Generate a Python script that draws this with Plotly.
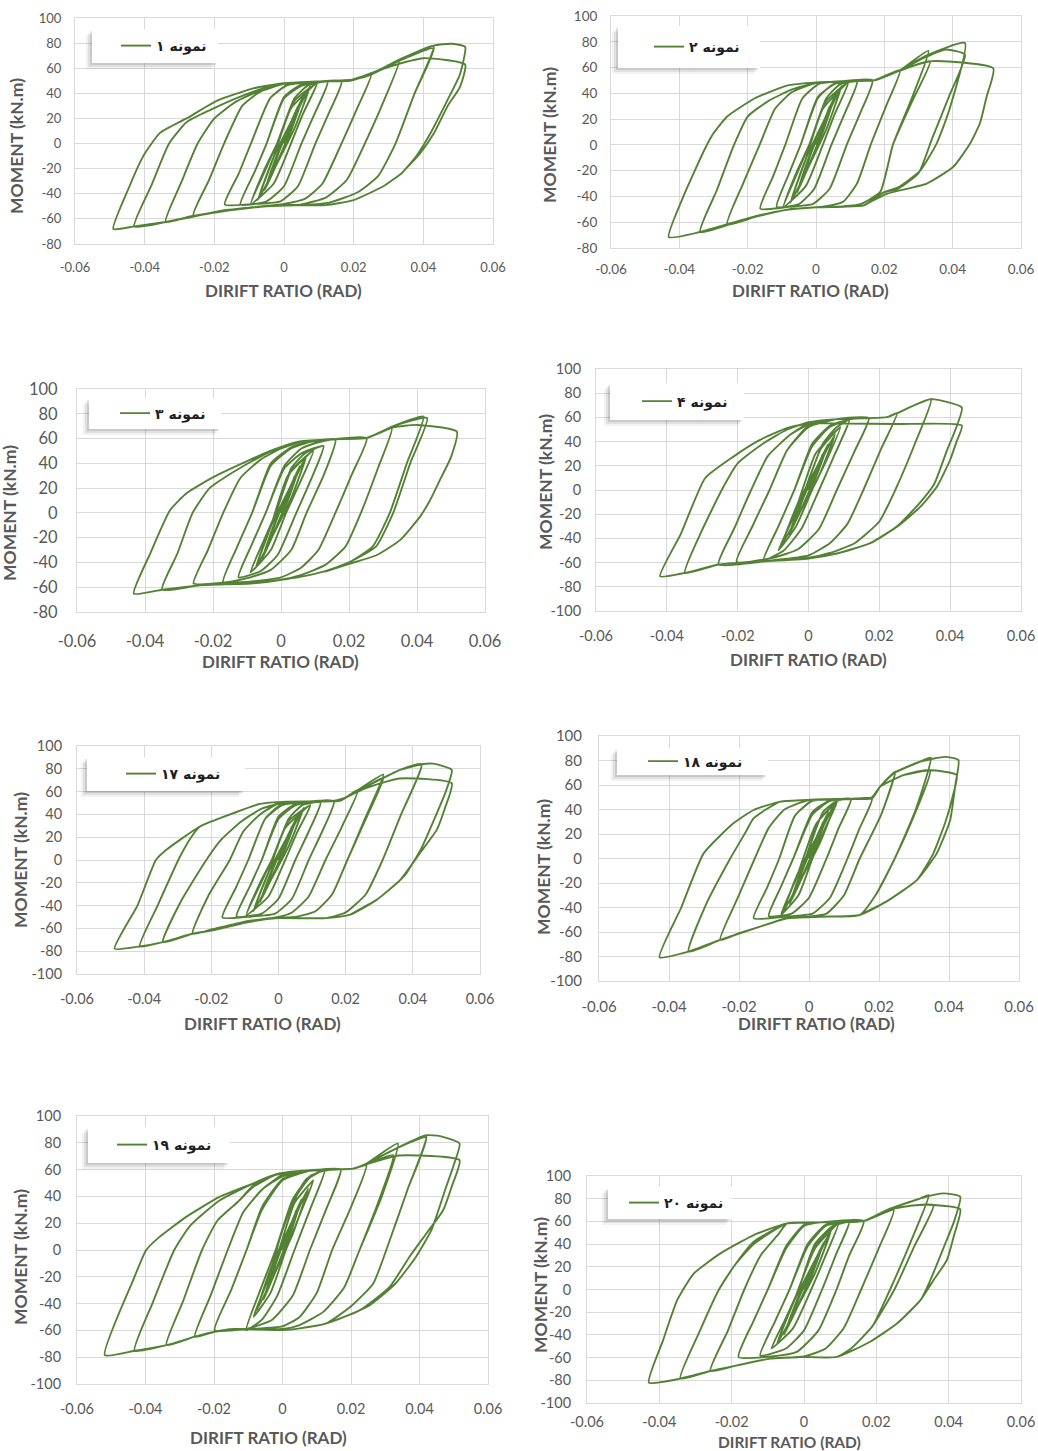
import plotly.graph_objects as go

W, H = 1038, 1451
GREEN = "#548235"
GRID = "#d9d9d9"
TXT = "#595959"

legend_names = ["نمونه ۱", "نمونه ۲", "نمونه ۳", "نمونه ۴",
                "نمونه ۱۷", "نمونه ۱۸", "نمونه ۱۹", "نمونه ۲۰"]
x_tick_vals = [-0.06, -0.04, -0.02, 0, 0.02, 0.04, 0.06]
x_tick_text = ["-0.06", "-0.04", "-0.02", "0", "0.02", "0.04", "0.06"]
y_ticks_80 = [-80, -60, -40, -20, 0, 20, 40, 60, 80, 100]
y_ticks_100 = [-100, -80, -60, -40, -20, 0, 20, 40, 60, 80, 100]
x_title = "DIRIFT RATIO (RAD)"
y_title = "MOMENT (kN.m)"

# (drift ratio, moment) points
loop_1 = [
    (0, 0), (0.004, 30), (0.0015, 8), (-0.004, -28), (-0.0015, -7),
    (0.004, 30), (0.0015, 8), (-0.004, -28), (-0.0015, -7),
    (0.0055, 38), (0.002, 10), (-0.0055, -37), (-0.002, -9),
    (0.0055, 38), (0.002, 10), (-0.0055, -37), (-0.002, -9),
    (0.0075, 46), (0.003, 12), (-0.0075, -45), (-0.003, -11),
    (0.0075, 46), (0.003, 12), (-0.0075, -45), (-0.003, -11),
    (0.002, 28), (0.0095, 48),
    (0.0055, 24), (0.002, 0), (-0.003, -32), (-0.0095, -48),
    (-0.0055, -22), (-0.002, 0), (0.003, 34), (0.0095, 48),
    (0.0055, 24), (0.002, 0), (-0.003, -32), (-0.0095, -48),
    (-0.0055, -20), (-0.002, 0), (0.003, 36), (0.007, 46.5), (0.0125, 49),
    (0.009, 25), (0.005, 0), (0, -34), (-0.005, -46), (-0.0125, -48.5),
    (-0.0085, -23), (-0.005, 0), (0, 36), (0.005, 46), (0.0125, 49),
    (0.009, 25), (0.005, 0), (0, -34), (-0.005, -46), (-0.0125, -48.5),
    (-0.0085, -23), (-0.005, 0), (0, 37), (0.005, 47), (0.0165, 49.5),
    (0.013, 25), (0.009, 0), (0.004, -34), (-0.001, -46), (-0.008, -48), (-0.017, -48.5),
    (-0.013, -24), (-0.0095, 0), (-0.004, 36), (0.001, 46.5), (0.008, 49), (0.0165, 49.5),
    (0.013, 25), (0.009, 0), (0.004, -34), (-0.001, -46), (-0.008, -48), (-0.017, -48.5),
    (-0.013, -24), (-0.0095, 0), (-0.004, 36), (0.001, 47), (0.01, 49.5), (0.019, 50), (0.025, 55),
    (0.021, 28), (0.0165, 0), (0.011, -32), (0.006, -44), (0, -48), (-0.01, -51), (-0.018, -53.5), (-0.026, -57),
    (-0.0215, -29), (-0.0172, 0), (-0.012, 30), (-0.007, 41), (0, 47.5), (0.01, 49.5), (0.019, 50), (0.025, 55),
    (0.021, 28), (0.0165, 0), (0.011, -32), (0.006, -44), (0, -48), (-0.01, -51), (-0.018, -53.5), (-0.026, -57),
    (-0.0215, -29), (-0.0172, 0), (-0.012, 30), (-0.007, 41), (0, 47.5), (0.01, 49.5), (0.019, 50), (0.025, 55), (0.033, 66),
    (0.0285, 33), (0.0232, 0), (0.018, -29), (0.012, -43), (0.005, -48.5), (0, -49), (-0.01, -51), (-0.02, -55), (-0.027, -58), (-0.034, -62.5),
    (-0.0295, -31), (-0.0248, 0), (-0.02, 20), (-0.014, 33), (-0.007, 42), (0, 47.5), (0.01, 49.5), (0.019, 50), (0.025, 55), (0.033, 66),
    (0.0285, 33), (0.0232, 0), (0.018, -29), (0.012, -43), (0.005, -48.5), (0, -49), (-0.01, -51), (-0.02, -55), (-0.027, -58), (-0.034, -62.5),
    (-0.0295, -31), (-0.0248, 0), (-0.02, 20), (-0.014, 33), (-0.007, 42), (0, 47.5), (0.01, 49.5), (0.019, 50), (0.025, 55), (0.033, 66), (0.043, 78),
    (0.0375, 40), (0.032, 0), (0.027, -26), (0.021, -39), (0.013, -47), (0.005, -49), (-0.005, -50), (-0.015, -53), (-0.025, -57), (-0.034, -62.5), (-0.043, -66),
    (-0.038, -33), (-0.033, 0), (-0.028, 17), (-0.021, 27), (-0.012, 38), (-0.004, 45.5), (0.003, 48.5), (0.012, 49.5), (0.019, 50.5), (0.026, 57), (0.034, 67), (0.043, 76),
    (0.0375, 40), (0.032, 0), (0.027, -26), (0.021, -39), (0.013, -47), (0.005, -49), (-0.005, -50), (-0.015, -53), (-0.025, -57), (-0.034, -62.5), (-0.043, -66),
    (-0.038, -33), (-0.033, 0), (-0.028, 17), (-0.021, 27), (-0.012, 38), (-0.004, 45.5), (0.003, 48.5), (0.012, 49.5), (0.019, 50.5), (0.026, 57), (0.034, 68), (0.043, 78), (0.048, 79.5), (0.052, 77),
    (0.0505, 55), (0.047, 35), (0.042, 8), (0.038, -10), (0.034, -23), (0.0285, -34), (0.02, -45), (0.012, -49), (0, -49), (-0.01, -51), (-0.02, -55), (-0.034, -62.5), (-0.043, -66), (-0.049, -68),
    (-0.0445, -35), (-0.0404, -10), (-0.0356, 8.5), (-0.028, 20), (-0.0193, 34), (-0.0088, 44), (0, 48), (0.01, 49.5), (0.02, 51), (0.03, 61), (0.04, 68), (0.052, 63),
    (0.0505, 45), (0.047, 30), (0.043, 8), (0.039, -8), (0.035, -20),
]

loop_2 = [
    (0, 0), (0.004, 30), (0.0015, 8), (-0.004, -28), (-0.0015, -7),
    (0.0055, 38), (0.002, 10), (-0.0055, -37), (-0.002, -9),
    (0.0055, 38), (0.002, 10), (-0.0055, -37), (-0.002, -9),
    (0.0075, 46), (0.003, 12), (-0.0075, -45), (-0.003, -11),
    (0.0075, 46), (0.003, 12), (-0.0075, -45), (-0.003, -11),
    (0.002, 28), (0.0095, 48.5),
    (0.0055, 24), (0.002, 0), (-0.003, -32), (-0.0095, -48),
    (-0.0055, -22), (-0.002, 0), (0.003, 34), (0.0095, 48.5),
    (0.0055, 24), (0.002, 0), (-0.003, -32), (-0.0095, -48),
    (-0.0055, -20), (-0.002, 0), (0.003, 36), (0.007, 47), (0.012, 49),
    (0.0085, 25), (0.0045, 0), (-0.0005, -34), (-0.005, -46), (-0.0115, -48),
    (-0.008, -23), (-0.0045, 0), (0.0005, 36), (0.005, 47), (0.012, 49),
    (0.0085, 25), (0.0045, 0), (-0.0005, -34), (-0.005, -46), (-0.0115, -48),
    (-0.008, -23), (-0.0045, 0), (0.0005, 37), (0.006, 48), (0.0165, 50),
    (0.013, 25), (0.009, 0), (0.004, -34), (-0.001, -46), (-0.008, -48), (-0.0163, -49.5),
    (-0.0125, -24), (-0.009, 0), (-0.004, 36), (0.001, 47.5), (0.008, 49.5), (0.0165, 50),
    (0.013, 25), (0.009, 0), (0.004, -34), (-0.001, -46), (-0.008, -48), (-0.0163, -49.5),
    (-0.0125, -24), (-0.009, 0), (-0.004, 36), (0.001, 47.5), (0.01, 49.5), (0.017, 50), (0.0246, 58),
    (0.0205, 30), (0.016, 0), (0.012, -30), (0.008, -44), (0.002, -48), (-0.008, -50), (-0.018, -56), (-0.026, -61.7),
    (-0.0215, -31), (-0.0165, 0), (-0.012, 28), (-0.007, 41), (0, 48), (0.01, 49.5), (0.017, 50), (0.0246, 58),
    (0.0205, 30), (0.016, 0), (0.012, -30), (0.008, -44), (0.002, -48), (-0.008, -50), (-0.018, -56), (-0.026, -61.7),
    (-0.0215, -31), (-0.0165, 0), (-0.012, 28), (-0.007, 41), (0, 48), (0.01, 49.5), (0.017, 50), (0.0246, 58), (0.0329, 73),
    (0.028, 36), (0.0225, 0), (0.0188, -36.5), (0.013, -46), (0.006, -48), (0, -48.5), (-0.01, -51), (-0.02, -57), (-0.0339, -67.6),
    (-0.029, -35), (-0.024, 0), (-0.02, 22), (-0.014, 34), (-0.007, 43), (0, 48), (0.01, 49.5), (0.017, 50), (0.025, 58), (0.0334, 65),
    (0.028, 33), (0.0225, 0), (0.0188, -36.5), (0.013, -46), (0.006, -48), (0, -48.5), (-0.01, -51), (-0.02, -57), (-0.0339, -67.6),
    (-0.029, -35), (-0.024, 0), (-0.02, 22), (-0.014, 34), (-0.007, 43), (0, 48), (0.01, 49.5), (0.017, 50), (0.0246, 58), (0.0324, 69.5), (0.0436, 79),
    (0.039, 27), (0.0353, 1), (0.0305, -20), (0.024, -33), (0.0197, -37), (0.014, -47), (0.008, -48), (0, -48.5), (-0.01, -51), (-0.02, -57), (-0.034, -67.6), (-0.0431, -71.5),
    (-0.0385, -38), (-0.0325, -3), (-0.030, 9), (-0.026, 22), (-0.018, 36), (-0.0085, 46), (0, 48.5), (0.01, 49.5), (0.0168, 50), (0.0246, 58), (0.032, 68), (0.038, 74), (0.0436, 70),
    (0.039, 38), (0.034, 5), (0.03, -22), (0.024, -34), (0.0197, -37), (0.014, -47), (0.008, -48), (0, -48.5), (-0.01, -51), (-0.02, -57), (-0.034, -67.6), (-0.0431, -71.5),
    (-0.0385, -38), (-0.0325, -3), (-0.030, 9), (-0.026, 22), (-0.018, 36), (-0.0085, 46), (0, 48.5), (0.01, 49.5), (0.0168, 50), (0.0246, 58), (0.034, 65), (0.0519, 59.3),
    (0.0499, 37), (0.048, 17), (0.0451, 1), (0.0402, -17), (0.0324, -30), (0.0207, -38), (0.014, -47),
]

loop_3 = [
    (0, 0), (0.004, 30), (0.0015, 8), (-0.004, -28), (-0.0015, -7),
    (0.0055, 38), (0.002, 10), (-0.0055, -37), (-0.002, -9),
    (0.0055, 38), (0.002, 10), (-0.0055, -37), (-0.002, -9),
    (0.0075, 46), (0.003, 12), (-0.0075, -45), (-0.003, -11),
    (0.0075, 46), (0.003, 12), (-0.0075, -45), (-0.003, -11),
    (0.002, 30), (0.0095, 50),
    (0.0055, 24), (0.0015, 0), (-0.003, -30), (-0.009, -48),
    (-0.005, -22), (-0.0015, 0), (0.003, 34), (0.0095, 50),
    (0.0055, 24), (0.0015, 0), (-0.003, -30), (-0.009, -48),
    (-0.005, -22), (-0.0015, 0), (0.003, 36), (0.007, 48), (0.0125, 54),
    (0.009, 28), (0.0045, 0), (-0.001, -34), (-0.006, -47), (-0.0125, -52),
    (-0.0085, -25), (-0.0045, 0), (0.001, 36), (0.006, 48), (0.0125, 54),
    (0.009, 28), (0.0045, 0), (-0.001, -34), (-0.006, -47), (-0.0125, -52),
    (-0.0085, -25), (-0.0045, 0), (0.001, 38), (0.006, 52), (0.011, 57), (0.016, 59),
    (0.0125, 30), (0.0075, 0), (0.003, -30), (-0.003, -46), (-0.009, -52), (-0.017, -55.7),
    (-0.013, -28), (-0.0085, 0), (-0.003, 38), (0.003, 52), (0.009, 57.5), (0.016, 59),
    (0.0125, 30), (0.0075, 0), (0.003, -30), (-0.003, -46), (-0.009, -52), (-0.017, -55.7),
    (-0.013, -28), (-0.0085, 0), (-0.003, 40), (0.003, 53), (0.009, 58), (0.016, 59.5), (0.0252, 60.3),
    (0.021, 32), (0.016, 0), (0.011, -30), (0.006, -44), (0, -52), (-0.009, -55.5), (-0.018, -56.5), (-0.0257, -57),
    (-0.0215, -30), (-0.017, 0), (-0.012, 28), (-0.006, 43), (0, 52), (0.006, 57.6), (0.015, 59.5), (0.0252, 60.3),
    (0.021, 32), (0.016, 0), (0.011, -30), (0.006, -44), (0, -52), (-0.009, -55.5), (-0.018, -56.5), (-0.0257, -57),
    (-0.0215, -30), (-0.017, 0), (-0.012, 28), (-0.006, 43), (0, 52), (0.006, 57.6), (0.015, 59.5), (0.025, 60.3), (0.0326, 68.5),
    (0.0285, 36), (0.0235, 0), (0.019, -27), (0.013, -42), (0.006, -50), (0, -54), (-0.009, -57), (-0.024, -58.5), (-0.035, -62),
    (-0.0305, -33), (-0.026, 0), (-0.021, 20), (-0.014, 33), (-0.007, 44), (0, 53), (0.006, 57.6), (0.015, 59.5), (0.025, 60.3), (0.0326, 68.5),
    (0.0285, 36), (0.0235, 0), (0.019, -27), (0.013, -42), (0.006, -50), (0, -54), (-0.009, -57), (-0.024, -58.5), (-0.035, -62),
    (-0.0305, -33), (-0.026, 0), (-0.021, 20), (-0.014, 33), (-0.007, 44), (0, 53), (0.006, 57.6), (0.015, 59.5), (0.025, 60.3), (0.033, 70), (0.0419, 77.9),
    (0.037, 40), (0.032, 0), (0.027, -27), (0.02, -40), (0.013, -47), (0.0056, -51.6), (0, -54), (-0.009, -57), (-0.024, -58.5), (-0.035, -62), (-0.0433, -65.2),
    (-0.0385, -33), (-0.0326, 2.3), (-0.0277, 16), (-0.0198, 29), (-0.009, 43), (-0.0022, 51), (0.0056, 57.6), (0.0154, 59.5), (0.025, 60.3), (0.033, 70), (0.043, 76.5),
    (0.038, 40), (0.033, 0), (0.028, -27), (0.02, -40), (0.013, -47), (0.0056, -51.6), (0, -54), (-0.009, -57), (-0.024, -58.5), (-0.035, -62), (-0.0433, -65.2),
    (-0.0385, -33), (-0.0326, 2.3), (-0.0277, 16), (-0.0198, 29), (-0.009, 43), (-0.0022, 51), (0.0056, 57.6), (0.0154, 59.5), (0.025, 60.3), (0.033, 69), (0.04, 71), (0.0517, 65.7),
    (0.05, 45), (0.047, 28), (0.0438, 10), (0.0409, -3), (0.035, -22), (0.0282, -34), (0.0203, -41), (0.013, -47.4),
]

loop_4 = [
    (0, 0), (0.004, 30), (0.0015, 8), (-0.004, -28), (-0.0015, -7),
    (0.0055, 38), (0.002, 10), (-0.0055, -37), (-0.002, -9),
    (0.0055, 38), (0.002, 10), (-0.0055, -37), (-0.002, -9),
    (0.0075, 46), (0.003, 12), (-0.0075, -45), (-0.003, -11),
    (0.0075, 46), (0.003, 12), (-0.0075, -45), (-0.003, -11),
    (0.002, 30), (0.009, 52),
    (0.005, 24), (0.001, 0), (-0.0035, -30), (-0.0085, -50),
    (-0.0045, -24), (-0.001, 0), (0.0035, 34), (0.009, 52),
    (0.005, 24), (0.001, 0), (-0.0035, -30), (-0.0085, -50),
    (-0.0045, -24), (-0.001, 0), (0.004, 38), (0.008, 52), (0.0115, 58),
    (0.0075, 30), (0.003, 0), (-0.002, -32), (-0.007, -50), (-0.0127, -58),
    (-0.0085, -30), (-0.004, 0), (0.001, 36), (0.006, 52), (0.0115, 58),
    (0.0075, 30), (0.003, 0), (-0.002, -32), (-0.007, -50), (-0.0127, -58),
    (-0.0085, -30), (-0.004, 0), (0.001, 38), (0.006, 53), (0.011, 58), (0.017, 59.4),
    (0.013, 32), (0.008, 0), (0.003, -32), (-0.003, -49), (-0.01, -56), (-0.0203, -59.4),
    (-0.016, -31), (-0.011, 0), (-0.006, 33), (0, 52), (0.008, 58.6), (0.017, 59.4),
    (0.013, 32), (0.008, 0), (0.003, -32), (-0.003, -49), (-0.01, -56), (-0.0203, -59.4),
    (-0.016, -31), (-0.011, 0), (-0.006, 33), (0, 53), (0.008, 58.6), (0.0221, 60.2), (0.025, 63.5),
    (0.0205, 34), (0.0155, 0), (0.011, -28), (0.006, -44), (0, -54), (-0.01, -58), (-0.0254, -61.6),
    (-0.021, -32), (-0.0162, 0), (-0.0115, 28), (-0.005, 46), (0, 54), (0.008, 58.6), (0.0221, 60.2), (0.025, 63.5),
    (0.0205, 34), (0.0155, 0), (0.011, -28), (0.006, -44), (0, -54), (-0.01, -58), (-0.0254, -61.6),
    (-0.021, -32), (-0.0162, 0), (-0.0115, 28), (-0.005, 46), (0, 55), (0.008, 58.6), (0.0221, 60.2), (0.025, 63.5), (0.0346, 75.1),
    (0.03, 38), (0.0245, 0), (0.02, -26), (0.013, -44), (0.006, -52), (0, -56), (-0.0155, -59.4), (-0.0254, -61.6), (-0.0349, -68.5),
    (-0.0305, -36), (-0.0245, 0), (-0.02, 22), (-0.013, 38), (-0.006, 50), (0, 56), (0.008, 58.6), (0.0221, 60.2), (0.025, 63.5), (0.0346, 75.1),
    (0.03, 38), (0.0245, 0), (0.02, -26), (0.013, -44), (0.006, -52), (0, -56), (-0.0155, -59.4), (-0.0254, -61.6), (-0.0349, -68.5),
    (-0.0305, -36), (-0.0245, 0), (-0.02, 22), (-0.013, 38), (-0.006, 50), (0, 56), (0.008, 58.6), (0.0221, 60.2), (0.025, 63.5), (0.0346, 75.1), (0.0433, 68.2),
    (0.0415, 50), (0.039, 32), (0.0355, 5), (0.031, -12), (0.025, -30), (0.0174, -44), (0.008, -52.5), (0, -56.6), (-0.0155, -59.4), (-0.0254, -61.6), (-0.0349, -68.5), (-0.0419, -71.3),
    (-0.036, -36), (-0.0292, 9.7), (-0.0212, 27.6), (-0.0137, 41.4), (-0.0061, 51.1), (0, 55), (0.01, 55), (0.025, 54.5), (0.0433, 53.3),
    (0.0418, 40), (0.040, 25), (0.0363, 2.8), (0.0316, -13.8), (0.025, -30.4), (0.0174, -44), (0.008, -52.5), (0, -56.6),
]

loop_17 = [
    (0, 0), (0.004, 30), (0.0015, 8), (-0.004, -28), (-0.0015, -7),
    (0.0055, 38), (0.002, 10), (-0.0055, -37), (-0.002, -9),
    (0.0055, 38), (0.002, 10), (-0.0055, -37), (-0.002, -9),
    (0.0075, 46), (0.003, 12), (-0.0075, -45), (-0.003, -11),
    (0.0075, 46), (0.003, 12), (-0.0075, -45), (-0.003, -11),
    (0.002, 28), (0.0095, 48),
    (0.0055, 24), (0.002, 0), (-0.003, -32), (-0.0095, -48),
    (-0.0055, -22), (-0.002, 0), (0.003, 34), (0.0095, 48),
    (0.0055, 24), (0.002, 0), (-0.003, -32), (-0.0095, -48),
    (-0.0055, -20), (-0.002, 0), (0.003, 36), (0.007, 48), (0.0125, 50.5),
    (0.009, 25), (0.005, 0), (0, -34), (-0.005, -47), (-0.0125, -49.5),
    (-0.0085, -23), (-0.005, 0), (0, 36), (0.005, 48), (0.0125, 50.5),
    (0.009, 25), (0.005, 0), (0, -34), (-0.005, -47), (-0.0125, -49.5),
    (-0.0085, -23), (-0.005, 0), (0, 38), (0.005, 49), (0.0165, 51.5),
    (0.013, 25), (0.009, 0), (0.004, -34), (-0.001, -47), (-0.008, -49.5), (-0.0167, -50.4),
    (-0.0128, -25), (-0.009, 0), (-0.004, 36), (0.001, 48), (0.008, 51), (0.0165, 51.5),
    (0.013, 25), (0.009, 0), (0.004, -34), (-0.001, -47), (-0.008, -49.5), (-0.0167, -50.4),
    (-0.0128, -25), (-0.009, 0), (-0.004, 36), (0.001, 49), (0.01, 51.5), (0.0183, 52), (0.0237, 61.5),
    (0.019, 30), (0.014, 0), (0.009, -32), (0.004, -46), (0, -50), (-0.01, -54), (-0.02, -61), (-0.0256, -64.7),
    (-0.021, -32), (-0.0145, 0), (-0.0105, 25), (-0.0055, 40), (0, 49.5), (0.01, 51.5), (0.0183, 52), (0.0237, 61.5),
    (0.019, 30), (0.014, 0), (0.009, -32), (0.004, -46), (0, -50), (-0.01, -54), (-0.02, -61), (-0.0256, -64.7),
    (-0.021, -32), (-0.0145, 0), (-0.0105, 25), (-0.0055, 40), (0, 50), (0.01, 51.5), (0.0183, 52), (0.0237, 61.5), (0.0312, 75),
    (0.026, 38), (0.0205, 0), (0.016, -30), (0.011, -45), (0.005, -50), (0, -50.5), (-0.01, -55), (-0.02, -62), (-0.0256, -64.7), (-0.0344, -72),
    (-0.029, -36), (-0.0215, 0), (-0.017, 18), (-0.011, 34), (-0.005, 45), (0.002, 50.5), (0.0163, 51.8), (0.0193, 54), (0.0262, 64.4), (0.0312, 72),
    (0.026, 36), (0.0205, 0), (0.016, -30), (0.011, -45), (0.005, -50), (0, -50.5), (-0.01, -55), (-0.02, -62), (-0.0256, -64.7), (-0.0344, -72),
    (-0.029, -36), (-0.0215, 0), (-0.017, 18), (-0.011, 34), (-0.005, 45), (0.002, 50.5), (0.0163, 51.8), (0.0193, 54), (0.0262, 64.4), (0.0362, 79), (0.0426, 84),
    (0.0365, 40), (0.031, 0), (0.026, -30), (0.02, -46), (0.0143, -51), (0, -51), (-0.01, -55), (-0.02, -62), (-0.0256, -64.7), (-0.0344, -72), (-0.0413, -75.8),
    (-0.036, -40), (-0.0295, 2), (-0.026, 20), (-0.0234, 29.4), (-0.0135, 41), (-0.0056, 49.2), (0.0024, 51.2), (0.0163, 51.8), (0.0193, 54), (0.0262, 64.4), (0.0362, 79), (0.0426, 83),
    (0.0365, 40), (0.031, 0), (0.026, -30), (0.02, -46), (0.0143, -51), (0, -51), (-0.01, -55), (-0.02, -62), (-0.0256, -64.7), (-0.0344, -72), (-0.0413, -75.8),
    (-0.036, -40), (-0.0295, 2), (-0.026, 20), (-0.0234, 29.4), (-0.0135, 41), (-0.0056, 49.2), (0.0024, 51.2), (0.0163, 51.8), (0.0193, 54), (0.0262, 64.4), (0.0362, 79), (0.0426, 84), (0.046, 84.5), (0.0516, 79),
    (0.0498, 60), (0.047, 40), (0.0425, 10), (0.038, -12), (0.0362, -17.7), (0.0292, -35), (0.0213, -48), (0.0143, -51), (0, -51), (-0.01, -55), (-0.02, -62), (-0.0256, -64.7), (-0.0344, -72), (-0.0413, -75.8), (-0.0488, -77.8),
    (-0.042, -40), (-0.0365, 0), (-0.0334, 8.9), (-0.0234, 29.4), (-0.0135, 41), (-0.0056, 49.2), (0.0024, 51.2), (0.0163, 51.8), (0.0193, 54), (0.026, 63), (0.036, 71.5), (0.0516, 67.3),
    (0.0495, 45), (0.0471, 26.4), (0.0421, 6), (0.0362, -17.7), (0.0292, -35), (0.0213, -48),
]

loop_18 = [
    (0, 0), (0.004, 30), (0.0015, 8), (-0.004, -28), (-0.0015, -7),
    (0.0055, 38), (0.002, 10), (-0.0055, -37), (-0.002, -9),
    (0.0055, 38), (0.002, 10), (-0.0055, -37), (-0.002, -9),
    (0.0075, 45), (0.003, 12), (-0.0075, -44), (-0.003, -11),
    (0.0075, 45), (0.003, 12), (-0.0075, -44), (-0.003, -11),
    (0.002, 28), (0.008, 46),
    (0.0045, 24), (0.001, 0), (-0.003, -30), (-0.008, -46),
    (-0.0045, -22), (-0.001, 0), (0.003, 32), (0.008, 46),
    (0.0045, 24), (0.001, 0), (-0.003, -30), (-0.008, -46),
    (-0.0045, -22), (-0.001, 0), (0.004, 38), (0.008, 47), (0.012, 48.5),
    (0.0085, 25), (0.005, 0), (0, -32), (-0.005, -45), (-0.0115, -47),
    (-0.008, -23), (-0.0045, 0), (0.001, 36), (0.006, 47), (0.012, 48.5),
    (0.0085, 25), (0.005, 0), (0, -32), (-0.005, -45), (-0.0115, -47),
    (-0.008, -23), (-0.0045, 0), (0.001, 38), (0.006, 47.5), (0.0118, 48.6), (0.018, 49),
    (0.0145, 25), (0.011, 0), (0.006, -32), (0.001, -45), (-0.007, -47.5), (-0.0158, -48.8),
    (-0.012, -24), (-0.0085, 0), (-0.004, 35), (0.001, 47), (0.0118, 48.6), (0.018, 49),
    (0.0145, 25), (0.011, 0), (0.006, -32), (0.001, -45), (-0.007, -47.5), (-0.0158, -48.8),
    (-0.012, -24), (-0.0085, 0), (-0.004, 35), (0.001, 47.5), (0.0118, 48.6), (0.018, 49), (0.0203, 58.6), (0.0246, 70.9),
    (0.0205, 35), (0.0145, 0), (0.01, -30), (0.005, -45), (0, -47.5), (-0.0063, -48.8), (-0.014, -55.6), (-0.02, -61), (-0.0254, -66.5),
    (-0.0205, -33), (-0.0155, 0), (-0.0115, 25), (-0.007, 40), (0, 47.8), (0.0118, 48.6), (0.018, 49), (0.0203, 58.6), (0.0246, 70),
    (0.0205, 35), (0.0145, 0), (0.01, -30), (0.005, -45), (0, -47.5), (-0.0063, -48.8), (-0.014, -55.6), (-0.02, -61), (-0.0254, -66.5),
    (-0.0205, -33), (-0.0155, 0), (-0.0115, 25), (-0.007, 40), (0, 47.8), (0.0118, 48.6), (0.018, 49), (0.0203, 58.6), (0.0241, 69.5), (0.0317, 79), (0.0348, 82.3),
    (0.0305, 40), (0.0245, 0), (0.019, -30), (0.0146, -46), (0.0032, -47.5), (-0.0063, -48.8), (-0.014, -55.6), (-0.0254, -66.5), (-0.0344, -76),
    (-0.0295, -38), (-0.0225, 0), (-0.018, 22), (-0.0158, 33), (-0.0082, 46.4), (0, 47.8), (0.0118, 48.6), (0.018, 50), (0.0203, 58.6), (0.027, 68), (0.0346, 72),
    (0.03, 35), (0.0245, 0), (0.019, -30), (0.0146, -46), (0.0032, -47.5), (-0.0063, -48.8), (-0.014, -55.6), (-0.0254, -66.5), (-0.0344, -76),
    (-0.0295, -38), (-0.0225, 0), (-0.018, 22), (-0.0158, 33), (-0.0082, 46.4), (0, 47.8), (0.0118, 48.6), (0.018, 50), (0.0203, 58.6), (0.0241, 69.5), (0.0317, 79), (0.0389, 83), (0.0427, 80.4),
    (0.0418, 60), (0.0403, 31), (0.0365, 4.2), (0.0308, -17.6), (0.0222, -35), (0.0146, -46), (0.0032, -47.5), (-0.0063, -48.8), (-0.014, -55.6), (-0.0254, -66.5), (-0.0344, -76), (-0.0427, -80.7),
    (-0.0365, -40), (-0.0301, 4.2), (-0.0216, 28.7), (-0.0158, 39.6), (-0.0082, 46.4), (0, 47.8), (0.0118, 48.6), (0.018, 50), (0.0203, 58.6), (0.027, 68), (0.0346, 72), (0.0422, 68.2),
    (0.041, 50), (0.039, 30), (0.0355, 4), (0.0308, -17.6), (0.0222, -35), (0.0146, -46),
]

loop_19 = [
    (0, 0), (0.004, 30), (0.0015, 8), (-0.004, -28), (-0.0015, -7),
    (0.0055, 38), (0.002, 10), (-0.0055, -37), (-0.002, -9),
    (0.0055, 38), (0.002, 10), (-0.0055, -37), (-0.002, -9),
    (0.0075, 46), (0.003, 12), (-0.0075, -45), (-0.003, -11),
    (0.0075, 46), (0.003, 12), (-0.0075, -45), (-0.003, -11),
    (0.002, 30), (0.009, 52),
    (0.005, 26), (0.001, 0), (-0.0035, -32), (-0.0085, -50),
    (-0.0045, -24), (-0.001, 0), (0.0035, 35), (0.009, 52),
    (0.005, 26), (0.001, 0), (-0.0035, -32), (-0.0085, -50),
    (-0.0045, -24), (-0.001, 0), (0.004, 40), (0.008, 54), (0.0123, 59.5),
    (0.008, 30), (0.0035, 0), (-0.0015, -34), (-0.006, -52), (-0.0106, -59.8),
    (-0.0065, -30), (-0.002, 0), (0.003, 36), (0.007, 53), (0.0123, 59.5),
    (0.008, 30), (0.0035, 0), (-0.0015, -34), (-0.006, -52), (-0.0106, -59.8),
    (-0.0065, -30), (-0.002, 0), (0.003, 38), (0.008, 55), (0.012, 59), (0.017, 60),
    (0.013, 32), (0.008, 0), (0.003, -34), (-0.003, -52), (-0.01, -58.5), (-0.0198, -59.8),
    (-0.015, -30), (-0.0105, 0), (-0.006, 30), (0, 52), (0.008, 59), (0.017, 60),
    (0.013, 32), (0.008, 0), (0.003, -34), (-0.003, -52), (-0.01, -58.5), (-0.0198, -59.8),
    (-0.015, -30), (-0.0105, 0), (-0.006, 32), (0, 53), (0.008, 59.5), (0.0206, 60.7), (0.0245, 63.2),
    (0.02, 32), (0.0145, 0), (0.01, -32), (0.005, -50), (0, -57), (-0.01, -59), (-0.0198, -61), (-0.0256, -64.7),
    (-0.021, -34), (-0.016, 0), (-0.0115, 28), (-0.006, 45), (0, 55), (0.008, 59.5), (0.0206, 60.7), (0.0245, 63.2),
    (0.02, 32), (0.0145, 0), (0.01, -32), (0.005, -50), (0, -57), (-0.01, -59), (-0.0198, -61), (-0.0256, -64.7),
    (-0.021, -34), (-0.016, 0), (-0.0115, 28), (-0.006, 45), (0, 56), (0.008, 59.5), (0.0206, 60.7), (0.0245, 64.5), (0.0337, 79.4),
    (0.029, 40), (0.0225, 0), (0.018, -28), (0.012, -46), (0.005, -56), (0, -59), (-0.0145, -59), (-0.0198, -61), (-0.0256, -64.7), (-0.0339, -71),
    (-0.029, -38), (-0.0235, 0), (-0.019, 22), (-0.013, 36), (-0.0086, 47), (-0.002, 56), (0.005, 59), (0.0206, 60.7), (0.0245, 64), (0.0323, 70.7),
    (0.028, 36), (0.0225, 0), (0.018, -28), (0.012, -46), (0.005, -56), (0, -59), (-0.0145, -59), (-0.0198, -61), (-0.0256, -64.7), (-0.0339, -71),
    (-0.029, -38), (-0.0235, 0), (-0.019, 22), (-0.013, 36), (-0.0086, 48), (-0.002, 56.5), (0.005, 59), (0.0206, 60.7), (0.0245, 64.5), (0.0342, 77), (0.042, 85.6),
    (0.0365, 45), (0.031, 5), (0.0265, -25), (0.02, -42), (0.0128, -54.8), (0.005, -58.5), (0, -59.8), (-0.0145, -59), (-0.0198, -61), (-0.0256, -64.7), (-0.0339, -71), (-0.0432, -75.2),
    (-0.038, -40), (-0.0316, 0), (-0.027, 18), (-0.0184, 37), (-0.0086, 49.6), (-0.0018, 56.5), (0.005, 59), (0.0206, 60.7), (0.0245, 64.5), (0.0342, 77), (0.042, 84),
    (0.0365, 45), (0.031, 5), (0.0265, -25), (0.02, -42), (0.0128, -54.8), (0.005, -58.5), (0, -59.8), (-0.0145, -59), (-0.0198, -61), (-0.0256, -64.7), (-0.0339, -71), (-0.0432, -75.2),
    (-0.038, -40), (-0.0316, 0), (-0.027, 18), (-0.0184, 37), (-0.0086, 49.6), (-0.0018, 56.5), (0.005, 59), (0.0206, 60.7), (0.0245, 64.5), (0.0342, 77), (0.042, 85.6), (0.046, 85), (0.0517, 79.4),
    (0.0498, 62), (0.0475, 45), (0.0435, 15), (0.039, -5), (0.033, -25), (0.025, -42), (0.0128, -54.8), (0.005, -58.5), (0, -59.8), (-0.0145, -59), (-0.0198, -61), (-0.0256, -64.7), (-0.0339, -71), (-0.0432, -75.2), (-0.0519, -78.4),
    (-0.0436, -22.5), (-0.0398, 0), (-0.0359, 9.8), (-0.0281, 24.7), (-0.0184, 39.6), (-0.0086, 49.6), (-0.0018, 56.5), (0.005, 59), (0.0206, 60.7), (0.0245, 64), (0.034, 70.5), (0.0517, 67),
    (0.0495, 48), (0.0469, 29.7), (0.042, 12.3), (0.0371, -5), (0.0313, -27.5), (0.0225, -45), (0.0128, -54.8),
]

loop_20 = [
    (0, 0), (0.004, 32), (0.0015, 9), (-0.004, -30), (-0.0015, -8),
    (0.0055, 42), (0.002, 11), (-0.0055, -40), (-0.002, -10),
    (0.0055, 42), (0.002, 11), (-0.0055, -40), (-0.002, -10),
    (0.0075, 52), (0.003, 14), (-0.0075, -48), (-0.003, -12),
    (0.0075, 52), (0.003, 14), (-0.0075, -48), (-0.003, -12),
    (0.003, 36), (0.0095, 58),
    (0.006, 30), (0.002, 0), (-0.003, -34), (-0.009, -52),
    (-0.005, -25), (-0.0015, 0), (0.003, 38), (0.0095, 58),
    (0.006, 30), (0.002, 0), (-0.003, -34), (-0.009, -52),
    (-0.005, -25), (-0.0015, 0), (0.003, 40), (0.008, 56), (0.0124, 59),
    (0.009, 32), (0.005, 0), (0, -36), (-0.005, -52), (-0.0121, -58),
    (-0.008, -28), (-0.004, 0), (0.001, 38), (0.006, 56), (0.0124, 59),
    (0.009, 32), (0.005, 0), (0, -36), (-0.005, -52), (-0.0121, -58),
    (-0.008, -28), (-0.004, 0), (0.001, 40), (0.006, 57), (0.0165, 60.3),
    (0.0125, 30), (0.009, 0), (0.004, -36), (-0.002, -55), (-0.009, -59), (-0.0181, -59.4),
    (-0.014, -28), (-0.010, 0), (-0.005, 36), (0, 56), (0.0045, 59.1), (0.0165, 60.3),
    (0.0125, 30), (0.009, 0), (0.004, -36), (-0.002, -55), (-0.009, -59), (-0.0181, -59.4),
    (-0.014, -28), (-0.010, 0), (-0.005, 38), (0, 57), (0.0045, 59.1), (0.0165, 60.3), (0.0248, 70),
    (0.0205, 35), (0.0158, 0), (0.011, -34), (0.006, -52), (0, -59), (-0.0093, -60.9), (-0.0185, -66.8), (-0.0259, -71.8),
    (-0.021, -36), (-0.0165, 0), (-0.012, 30), (-0.007, 49), (-0.0047, 58.2), (0.0045, 59.1), (0.0165, 60.3), (0.0248, 70),
    (0.0205, 35), (0.0158, 0), (0.011, -34), (0.006, -52), (0, -59), (-0.0093, -60.9), (-0.0185, -66.8), (-0.0259, -71.8),
    (-0.021, -36), (-0.0165, 0), (-0.012, 30), (-0.007, 49), (-0.0047, 58.2), (0.0045, 59.1), (0.0165, 60.3), (0.0229, 70), (0.0322, 80.3), (0.0345, 83.2),
    (0.0295, 42), (0.0238, 0), (0.019, -32), (0.013, -52), (0.0091, -59.4), (0, -59.4), (-0.0093, -60.9), (-0.0185, -66.8), (-0.0259, -71.8), (-0.0342, -78.5),
    (-0.029, -38), (-0.0235, 0), (-0.019, 22), (-0.0139, 40), (-0.0047, 58.2), (0.0045, 59.1), (0.0165, 60.3), (0.0229, 70), (0.03, 74), (0.0358, 74.4),
    (0.0305, 38), (0.025, 0), (0.019, -32), (0.013, -52), (0.0091, -59.4), (0, -59.4), (-0.0093, -60.9), (-0.0185, -66.8), (-0.0259, -71.8), (-0.0342, -78.5),
    (-0.029, -38), (-0.0235, 0), (-0.019, 22), (-0.0139, 42), (-0.0047, 58.2), (0.0045, 59.1), (0.0165, 60.3), (0.0229, 70), (0.0322, 80.3), (0.0386, 84.7), (0.0432, 81.8),
    (0.0415, 60), (0.039, 40), (0.0345, 5), (0.0322, -9.4), (0.0257, -30), (0.0183, -46), (0.0091, -59.4), (0, -59.4), (-0.0093, -60.9), (-0.0185, -66.8), (-0.0259, -71.8), (-0.0342, -78.5), (-0.0429, -82),
    (-0.039, -45), (-0.035, -9), (-0.0305, 14), (-0.0231, 31.8), (-0.0139, 48), (-0.0047, 58.2), (0.0045, 59.1), (0.0165, 60.3), (0.0229, 70), (0.03, 74), (0.036, 74.4), (0.0432, 70.6),
    (0.0415, 48), (0.0395, 25.9), (0.0358, 8.2), (0.0322, -9.4), (0.0257, -30), (0.0183, -46), (0.0091, -59.4), (0, -59.4),
]

loops = [loop_1, loop_2, loop_3, loop_4, loop_17, loop_18, loop_19, loop_20]

# ---- layout specs (pixel positions) ----
specs = [
    dict(box=(75, 18, 493, 244), ymin=-80, tf=13, gap=(11, 10), leg=(92, 29, 218, 63), line0=117,
         yt=(17, 146), xt=(283, 290), xts=17),
    dict(box=(611, 16, 1021, 248), ymin=-80, tf=13.5, gap=(9, 10), leg=(618, 26, 760, 68), line0=650,
         yt=(550, 135), xt=(810, 290), xts=17),
    dict(box=(77, 389, 485, 612), ymin=-80, tf=16.5, gap=(14, 15), leg=(89, 398, 221, 429), line0=116,
         yt=(9, 513), xt=(280, 662), xts=17),
    dict(box=(596, 369, 1021, 611), ymin=-100, tf=14.5, gap=(12, 11), leg=(610, 383, 744, 420), line0=638,
         yt=(545, 482), xt=(808, 660), xts=17),
    dict(box=(77, 746, 480, 974), ymin=-100, tf=14.5, gap=(12, 11), leg=(87, 757, 245, 791), line0=122,
         yt=(20, 860), xt=(262, 1023), xts=17),
    dict(box=(599, 736, 1019, 981), ymin=-100, tf=15, gap=(12, 13), leg=(617, 748, 768, 775), line0=644,
         yt=(543, 867), xt=(816, 1023), xts=17),
    dict(box=(77, 1116, 488, 1384), ymin=-100, tf=14.5, gap=(12, 12), leg=(88, 1127, 230, 1163), line0=113,
         yt=(20, 1257), xt=(269, 1437), xts=17),
    dict(box=(587, 1176, 1021, 1403), ymin=-100, tf=14.5, gap=(6, 12), leg=(608, 1187, 732, 1219), line0=625,
         yt=(540, 1285), xt=(789, 1442), xts=15.5),
]

fig = go.Figure()
layout = dict(width=W, height=H, margin=dict(l=0, r=0, t=0, b=0, autoexpand=False),
              paper_bgcolor="white", plot_bgcolor="white", showlegend=True)
shapes = []
annotations = []

for i, (pts, name, sp) in enumerate(zip(loops, legend_names, specs), start=1):
    sfx = "" if i == 1 else str(i)
    xs = [p[0] for p in pts]
    ys = [p[1] for p in pts]
    fig.add_trace(go.Scatter(
        x=xs, y=ys, mode="lines", name=name,
        line=dict(color=GREEN, width=1.9, shape="spline", smoothing=0.5),
        xaxis="x" + sfx, yaxis="y" + sfx, legend="legend" + sfx,
        hoverinfo="skip"))

    l, t, r, b = sp["box"]
    yt = y_ticks_80 if sp["ymin"] == -80 else y_ticks_100
    tick_font = dict(family="Lato, Carlito, sans-serif", size=sp["tf"], color=TXT)
    layout["xaxis" + sfx] = dict(
        domain=[l / W, r / W], range=[-0.06, 0.06], anchor="y" + sfx,
        tickvals=x_tick_vals, ticktext=x_tick_text, tickfont=tick_font,
        showgrid=True, gridcolor=GRID, gridwidth=1, zeroline=False,
        showline=True, mirror=True, linecolor=GRID, linewidth=1,
        ticks="", ticklabelstandoff=sp["gap"][0], fixedrange=True)
    layout["yaxis" + sfx] = dict(
        domain=[1 - b / H, 1 - t / H], range=[sp["ymin"], 100], anchor="x" + sfx,
        tickvals=yt, ticktext=[str(v) for v in yt], tickfont=tick_font,
        showgrid=True, gridcolor=GRID, gridwidth=1, zeroline=False,
        showline=True, mirror=True, linecolor=GRID, linewidth=1,
        ticks="", ticklabelstandoff=sp["gap"][1], fixedrange=True)

    # legend box with soft shadow (left/bottom)
    bl, bt, br, bb = sp["leg"]
    for off, alpha in ((6, 0.05), (4, 0.07), (2, 0.10)):
        shapes.append(dict(type="rect", xref="paper", yref="paper",
                           x0=(bl - off) / W, x1=(br - off) / W,
                           y0=1 - (bb + off) / H, y1=1 - (bt + off) / H,
                           fillcolor=f"rgba(0,0,0,{alpha})", line=dict(width=0), layer="above"))
    shapes.append(dict(type="rect", xref="paper", yref="paper",
                       x0=bl / W, x1=br / W, y0=1 - bb / H, y1=1 - bt / H,
                       fillcolor="white", line=dict(width=0), layer="above"))
    layout["legend" + sfx] = dict(
        x=(sp["line0"] - 1) / W, y=1 - ((bt + bb) / 2) / H,
        xanchor="left", yanchor="middle", bgcolor="rgba(0,0,0,0)", borderwidth=0,
        font=dict(family="DejaVu Sans, Noto Sans, sans-serif", size=14, color="#1f1f1f", weight="bold"))

    annotations.append(dict(text="<b>" + y_title + "</b>", x=sp["yt"][0] / W, y=1 - sp["yt"][1] / H,
                            xref="paper", yref="paper", showarrow=False, textangle=-90,
                            xanchor="center", yanchor="middle",
                            font=dict(family="Lato, Carlito, sans-serif", size=17.5, color=TXT)))
    annotations.append(dict(text="<b>" + x_title + "</b>", x=sp["xt"][0] / W, y=1 - sp["xt"][1] / H,
                            xref="paper", yref="paper", showarrow=False,
                            xanchor="center", yanchor="middle",
                            font=dict(family="Lato, Carlito, sans-serif", size=sp["xts"], color=TXT)))

layout["shapes"] = shapes
layout["annotations"] = annotations
fig.update_layout(**layout)
fig.write_html("out.html", config={"displayModeBar": False},
               post_script="document.body.style.margin='0';document.body.style.overflow='hidden';")
